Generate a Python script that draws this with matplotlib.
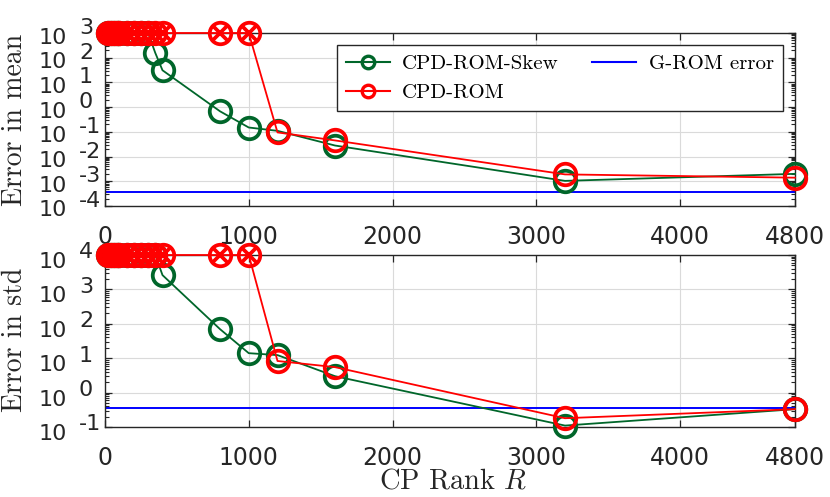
"""
Error in mean / std versus CP rank for the CPD-ROM variants.
"""

import matplotlib

matplotlib.use("Agg")
import matplotlib.pyplot as plt
import matplotlib.transforms as mtransforms
from matplotlib.lines import Line2D
from matplotlib.ticker import FixedLocator, LogLocator, NullFormatter

plt.rcParams["mathtext.fontset"] = "cm"

# CP ranks used in the study
ranks = [20, 40, 60, 80, 100, 150, 200, 250, 300, 350, 400, 800, 1000, 1200, 1600, 3200, 4800]

# diverged runs are stored at the top of the axis range
mean_top = 1e3
std_top = 1e4
skew_mean = [mean_top] * 9 + [155, 31, 0.68, 0.15, 0.11, 0.028, 0.00104, 0.0020]
rom_mean = [mean_top] * 13 + [0.095, 0.045, 0.0019, 0.0014]
skew_std = [std_top] * 10 + [2600, 70, 14, 12.3, 3.0, 0.11, 0.33]
rom_std = [std_top] * 13 + [8.3, 5.5, 0.18, 0.33]

# reference G-ROM errors
grom_mean = 3.8e-4
grom_std = 0.355

mean_exps = [-4, -3, -2, -1, 0, 1, 2, 3]
std_exps = [-1, 0, 1, 2, 3, 4]
x_ticks = [0, 1000, 2000, 3000, 4000, 4800]

GREEN = "#00662a"
RED = "#ff0000"
BLUE = "#0000ff"
AXC = "#262626"


def style_axis(ax, exps, dy_exp, dy_base):
    ax.set_yscale("log")
    ax.set_xlim(0, 4800)
    ax.set_ylim(10.0 ** exps[0], 10.0 ** exps[-1])
    ax.xaxis.set_major_locator(FixedLocator(x_ticks))
    ax.yaxis.set_major_locator(FixedLocator([10.0**e for e in exps]))
    ax.yaxis.set_minor_locator(LogLocator(base=10, subs=range(2, 10), numticks=30))
    ax.yaxis.set_major_formatter(NullFormatter())
    ax.yaxis.set_minor_formatter(NullFormatter())
    ax.tick_params(which="both", direction="in", top=True, right=True, color=AXC)
    ax.tick_params(which="major", length=5, width=0.9)
    ax.tick_params(which="minor", length=3, width=0.8)
    ax.tick_params(axis="x", labelsize=17, pad=14, labelcolor=AXC)
    ax.grid(True, which="major", color="#dadada", linewidth=0.8)
    ax.set_axisbelow(True)
    for sp in ax.spines.values():
        sp.set_color(AXC)
        sp.set_linewidth(1.0)

    # MATLAB style "10" with the exponent set beside it
    trans = ax.get_yaxis_transform()
    for e in exps:
        base = mtransforms.offset_copy(trans, fig=ax.figure, x=-38, y=-dy_base, units="dots")
        ax.text(0, 10.0**e, "10", transform=base, ha="right", va="center",
                fontsize=16, color=AXC)
        sup = mtransforms.offset_copy(trans, fig=ax.figure, x=-26, y=dy_exp, units="dots")
        ax.text(0, 10.0**e, str(e), transform=sup, ha="left", va="center",
                fontsize=16, color=AXC)


def draw_panel(ax, skew, rom, grom, top):
    ax.axhline(grom, color=BLUE, linewidth=1.4, zorder=2)
    ax.plot(ranks, skew, "-o", color=GREEN, mfc="none", ms=15.5, mew=2.7,
            linewidth=1.3, clip_on=False, zorder=3)
    ax.plot(ranks, rom, "-o", color=RED, mfc="none", ms=15.5, mew=2.7,
            linewidth=1.3, clip_on=False, zorder=4)
    # mark diverged runs with a cross
    bad_r = [r for r, v in zip(ranks, rom) if v >= top]
    bad_v = [v for v in rom if v >= top]
    ax.plot(bad_r, bad_v, "x", color=RED, ms=11, mew=2.7, clip_on=False, zorder=5)


fig = plt.figure(figsize=(8.3, 4.97), dpi=100)
ax1 = fig.add_axes([105 / 830, 1 - 206 / 497, 690 / 830, 173 / 497])
ax2 = fig.add_axes([105 / 830, 1 - 427 / 497, 690 / 830, 172 / 497])

style_axis(ax1, mean_exps, 5, 4.5)
style_axis(ax2, std_exps, 2.5, 7)

draw_panel(ax1, skew_mean, rom_mean, grom_mean, mean_top)
draw_panel(ax2, skew_std, rom_std, grom_std, std_top)

fig.text(15 / 830, 1 - 120 / 497, "Error in mean", rotation=90, ha="center",
         va="center", fontsize=20, family="cmr10", color=AXC)
fig.text(15 / 830, 1 - 340 / 497, "Error in std", rotation=90, ha="center",
         va="center", fontsize=20, family="cmr10", color=AXC)
fig.text(453 / 830, 1 - 481 / 497, r"CP Rank $R$", ha="center", va="center",
         fontsize=20.5, family="cmr10", color=AXC)

handles = [
    Line2D([], [], color=GREEN, marker="o", mfc="none", ms=9, mew=2.4, linewidth=1.5),
    Line2D([], [], color=RED, marker="o", mfc="none", ms=9, mew=2.4, linewidth=1.5),
    Line2D([], [], color=BLUE, linewidth=1.5),
]
leg = ax1.legend(
    handles,
    ["CPD-ROM-Skew", "CPD-ROM", "G-ROM error"],
    ncol=2,
    loc="upper right",
    bbox_to_anchor=(783 / 830, 1 - 45 / 497),
    bbox_transform=fig.transFigure,
    borderaxespad=0,
    prop={"family": "cmr10", "size": 15},
    handlelength=2.1,
    handletextpad=0.6,
    columnspacing=1.6,
    labelspacing=0.5,
    borderpad=0.45,
    fancybox=False,
    framealpha=1,
    edgecolor=AXC,
)
leg.get_frame().set_linewidth(1.0)
leg.set_zorder(10)

fig.savefig("out.png", dpi=100)
